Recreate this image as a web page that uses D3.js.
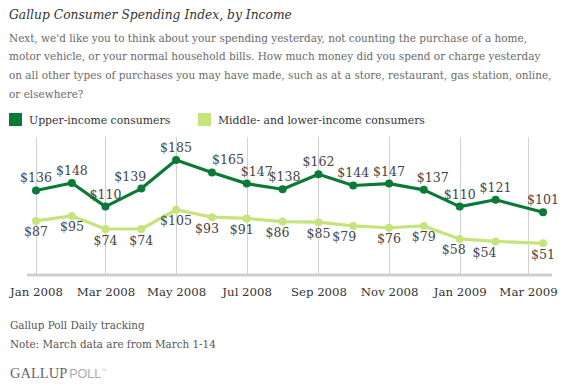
<!DOCTYPE html>
<html>
<head>
<meta charset="utf-8">
<script src="https://cdn.jsdelivr.net/npm/d3@7"></script>
<style>
  html, body { margin: 0; padding: 0; background: #fff; }
  svg { display: block; }
</style>
</head>
<body>
<svg id="chart" width="565" height="384"></svg>
<script>
// ---- data ----
const months = ["2008-01-01","2008-02-01","2008-03-01","2008-04-01","2008-05-01","2008-06-01","2008-07-01","2008-08-01","2008-09-01","2008-10-01","2008-11-01","2008-12-01","2009-01-01","2009-02-01","2009-03-14"];
const upperIncome = [136,148,110,139,185,165,147,138,162,144,147,137,110,121,101];
const middleLowerIncome = [87,95,74,74,105,93,91,86,85,79,76,79,58,54,51];
const seriesNames = ["Upper-income consumers", "Middle- and lower-income consumers"];
const titleText = "Gallup Consumer Spending Index, by Income";
const questionLines = [
  "Next, we'd like you to think about your spending yesterday, not counting the purchase of a home,",
  "motor vehicle, or your normal household bills. How much money did you spend or charge yesterday",
  "on all other types of purchases you may have made, such as at a store, restaurant, gas station, online,",
  "or elsewhere?"
];
const footerLines = ["Gallup Poll Daily tracking", "Note: March data are from March 1-14"];

// label nudges (px) to avoid overlaps, as in the original
const upperNudge = [0,0,0,-11,0,16,10,2,0,0,0,9,0,0,0];
const lowerNudge = [0,0,0,0,0,-5,-5,-5,0,-9,0,0,-6,-11,0];

const FONT = "'DejaVu Serif', Georgia, serif";
const darkGreen = "#0a7a36";
const lightGreen = "#c7e47c";

const svg = d3.select("#chart");
const parse = d3.timeParse("%Y-%m-%d");
const dates = months.map(parse);

// font-size fitting helper: scale the size of `sel` so that `refNode` is `target` px wide
function fitSize(sel, refNode, target, base) {
  sel.attr("font-size", base);
  const w = refNode.getComputedTextLength();
  const s = base * target / w;
  sel.attr("font-size", s);
  return s;
}

// ---- header ----
const title = svg.append("text").attr("x", 9).attr("y", 19)
  .attr("font-family", FONT).attr("font-style", "italic")
  .attr("fill", "#333").text(titleText);
fitSize(title, title.node(), 283, 14);

const q = svg.selectAll("text.q").data(questionLines).join("text").attr("class","q")
  .attr("x", 9).attr("y", (d,i) => 41.5 + i*18.7)
  .attr("font-family", FONT).attr("fill", "#6a6a6a")
  .text(d => d);
fitSize(q, q.nodes()[2], 543, 12);

// legend
const legendX = [9, 198];
const legend = svg.selectAll("g.leg").data(seriesNames).join("g").attr("class","leg")
  .attr("transform", (d,i) => `translate(${legendX[i]},113)`);
legend.append("rect").attr("width", 13).attr("height", 13)
  .attr("fill", (d,i) => i === 0 ? darkGreen : lightGreen);
const legText = legend.append("text").attr("x", 20).attr("y", 10.5)
  .attr("font-family", FONT).attr("fill", "#333").text(d => d);
fitSize(legText, legText.nodes()[1], 207, 12);

// ---- scales ----
const x = d3.scaleTime()
  .domain([parse("2008-01-01"), parse("2009-03-01")])
  .range([36, 528]);
const y = d3.scaleLinear().domain([0, 222]).range([275, 137]);

// gridlines
const ticks = d3.timeMonth.every(2).range(parse("2008-01-01"), parse("2009-03-02"));
svg.append("g").selectAll("line").data(ticks).join("line")
  .attr("x1", d => Math.round(x(d)) + 0.5).attr("x2", d => Math.round(x(d)) + 0.5)
  .attr("y1", 137).attr("y2", 274)
  .attr("stroke", "#d0d0d0").attr("stroke-width", 1);

// baseline axis
const xAxis = d3.axisBottom(x).tickValues(ticks).tickFormat(d3.timeFormat("%b %Y")).tickSize(0).tickPadding(13);
const axisG = svg.append("g").attr("transform", "translate(0,275)").call(xAxis);
axisG.select(".domain").remove();
axisG.append("line").attr("x1", 27).attr("x2", 552).attr("y1", 0).attr("y2", 0)
  .attr("stroke", "#cfcfcb").attr("stroke-width", 3);
const tickText = axisG.selectAll(".tick text").attr("font-family", FONT).attr("fill", "#333");
fitSize(tickText, tickText.nodes()[0], 53, 12);

// ---- lines ----
const series = [
  {vals: middleLowerIncome, color: lightGreen, nudge: lowerNudge, dy: 15.5},
  {vals: upperIncome, color: darkGreen, nudge: upperNudge, dy: -8}
];
const line = d3.line().x((d,i) => x(dates[i])).y(d => y(d));
let labelSize = null;
series.forEach(s => {
  const g = svg.append("g");
  g.append("path").datum(s.vals).attr("d", line)
    .attr("fill", "none").attr("stroke", s.color).attr("stroke-width", 3.2)
    .attr("stroke-linejoin", "round");
  g.selectAll("circle").data(s.vals).join("circle")
    .attr("cx", (d,i) => x(dates[i])).attr("cy", d => y(d)).attr("r", 4)
    .attr("fill", s.color);
  const t = g.selectAll("text").data(s.vals).join("text")
    .attr("x", (d,i) => x(dates[i]) + s.nudge[i]).attr("y", d => y(d) + s.dy)
    .attr("text-anchor", "middle")
    .attr("font-family", FONT).attr("fill", "#444")
    .text(d => "$" + d);
  if (labelSize === null) labelSize = fitSize(t, t.nodes()[0], 24, 12);
  else t.attr("font-size", labelSize);
});

// ---- footer ----
const foot = svg.selectAll("text.f").data(footerLines).join("text").attr("class","f")
  .attr("x", 10).attr("y", (d,i) => 329 + i*18.5)
  .attr("font-family", FONT).attr("fill", "#555")
  .text(d => d);
fitSize(foot, foot.nodes()[1], 206, 12);

const brand = svg.append("text").attr("x", 10).attr("y", 378);
brand.append("tspan").attr("font-family", "'Liberation Serif', serif").attr("font-size", 14.5)
  .attr("fill", "#666").text("GALLUP");
brand.append("tspan").attr("font-family", "'Liberation Sans', Arial, sans-serif").attr("font-size", 12.5)
  .attr("fill", "#aaa").attr("dx", 2).text("POLL");
brand.append("tspan").attr("font-family", "'Liberation Sans', Arial, sans-serif").attr("font-size", 5)
  .attr("fill", "#bbb").attr("dy", -6).text("\u2122");
</script>
</body>
</html>
